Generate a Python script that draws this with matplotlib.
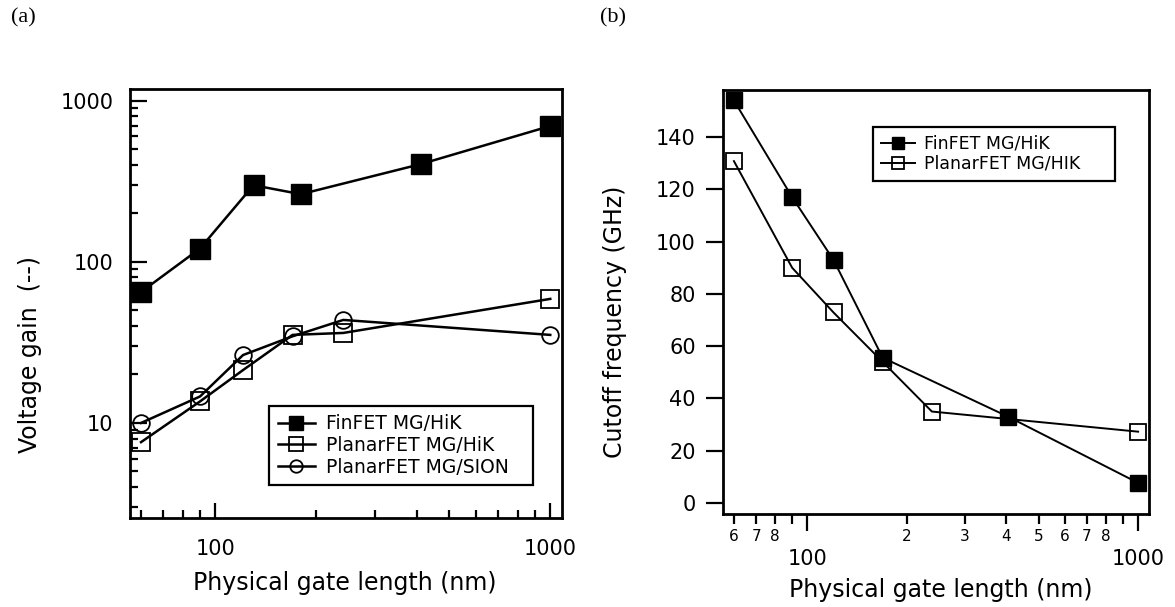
import numpy as np
import matplotlib
matplotlib.use("Agg")
import matplotlib.pyplot as plt
from matplotlib.ticker import FixedLocator, FixedFormatter, NullFormatter

plt.rcParams['font.family'] = ['DejaVu Sans']

# (a) voltage gain
fin_x_a = [60, 90, 130, 180, 410, 1000]
fin_y_a = [65, 121, 299, 263, 404, 697]
hik_x_a = [60, 90, 121, 170, 241, 1000]
hik_y_a = [7.6, 13.6, 21.3, 35.2, 36.2, 58.9]
sion_x_a = [60, 90, 121, 170, 241, 1000]
sion_y_a = [10.0, 14.6, 26.4, 34.5, 43.6, 35.2]

# (b) cutoff frequency
fin_x_b = [60, 90, 120, 169, 405, 1000]
fin_y_b = [154, 117, 93, 55.6, 33, 7.7]
hik_x_b = [60, 90, 120, 169, 238, 1000]
hik_y_b = [130.8, 90, 72.9, 54, 35, 27.3]

labels_a = ["FinFET MG/HiK", "PlanarFET MG/HiK", "PlanarFET MG/SION"]
labels_b = ["FinFET MG/HiK", "PlanarFET MG/HIK"]

fig = plt.figure(figsize=(11.75, 6.07), dpi=100)

# ---- panel (a)
ax1 = fig.add_axes([0.1106, 0.1466, 0.3677, 0.7068])
ax1.plot(fin_x_a, fin_y_a, '-s', color='k', lw=1.8, ms=14, mfc='k', label=labels_a[0], clip_on=False)
ax1.plot(hik_x_a, hik_y_a, '-s', color='k', lw=1.8, ms=13, mfc='none', mew=1.3, label=labels_a[1], clip_on=False)
ax1.plot(sion_x_a, sion_y_a, '-o', color='k', lw=1.8, ms=12, mfc='none', mew=1.3, label=labels_a[2], clip_on=False)
ax1.set_xscale('log')
ax1.set_yscale('log')
ax1.set_xlim(55.6, 1084)
ax1.set_ylim(2.57, 1183)
ax1.xaxis.set_major_locator(FixedLocator([100, 1000]))
ax1.xaxis.set_major_formatter(FixedFormatter(['100', '1000']))
ax1.xaxis.set_minor_locator(FixedLocator([60, 70, 80, 90, 200, 300, 400, 500, 600, 700, 800, 900]))
ax1.xaxis.set_minor_formatter(NullFormatter())
ax1.yaxis.set_major_locator(FixedLocator([10, 100, 1000]))
ax1.yaxis.set_major_formatter(FixedFormatter(['10', '100', '1000']))
ax1.yaxis.set_minor_locator(FixedLocator([3, 4, 5, 6, 7, 8, 9, 20, 30, 40, 50, 60, 70, 80, 90,
                                          200, 300, 400, 500, 600, 700, 800, 900]))
ax1.yaxis.set_minor_formatter(NullFormatter())
ax1.tick_params(which='both', direction='in', top=False, right=False, width=1.6, labelsize=15)
ax1.tick_params(axis='y', which='major', length=12, pad=12)
ax1.tick_params(axis='x', which='major', length=11, pad=15)
ax1.tick_params(which='minor', length=6)
for s in ax1.spines.values():
    s.set_linewidth(2)
ax1.set_xlabel("Physical gate length (nm)", fontsize=17)
ax1.set_ylabel("Voltage gain  (--)", fontsize=17)
ax1.xaxis.set_label_coords(0.498, -0.152)
ax1.yaxis.set_label_coords(-0.231, 0.38)
ax1.xaxis.label.set_va('center')
ax1.yaxis.label.set_va('center')
leg1 = ax1.legend(loc='center', bbox_to_anchor=(0.322, 0.068, 0.611, 0.202), mode='expand',
                  fancybox=False, edgecolor='k', framealpha=1, fontsize=13.5, handlelength=2.0,
                  handletextpad=0.6, borderpad=0.45, labelspacing=0.15, markerscale=0.75,
                  borderaxespad=0)
leg1.get_frame().set_linewidth(1.6)

# ---- panel (b)
ax2 = fig.add_axes([0.6153, 0.1532, 0.3626, 0.6985])
ax2.plot(fin_x_b, fin_y_b, '-s', color='k', lw=1.4, ms=12, mfc='k', label=labels_b[0], clip_on=False)
ax2.plot(hik_x_b, hik_y_b, '-s', color='k', lw=1.4, ms=12, mfc='none', mew=1.3, label=labels_b[1], clip_on=False)
ax2.set_xscale('log')
ax2.set_xlim(55.6, 1079)
ax2.set_ylim(-4.2, 158)
ax2.yaxis.set_major_locator(FixedLocator(np.arange(0, 141, 20)))
ax2.xaxis.set_major_locator(FixedLocator([100, 1000]))
ax2.xaxis.set_major_formatter(FixedFormatter(['100', '1000']))
minor_b = [60, 70, 80, 90, 200, 300, 400, 500, 600, 700, 800, 900]
minor_lab_b = ['6', '7', '8', '', '2', '3', '4', '5', '6', '7', '8', '']
ax2.xaxis.set_minor_locator(FixedLocator(minor_b))
ax2.xaxis.set_minor_formatter(FixedFormatter(minor_lab_b))
ax2.tick_params(which='both', direction='out', top=False, right=False, width=1.6)
ax2.tick_params(axis='y', which='major', length=12.5, pad=7, labelsize=15)
ax2.tick_params(axis='x', which='major', length=12.5, pad=13, labelsize=15)
ax2.tick_params(axis='x', which='minor', length=7, pad=4, labelsize=11)
for s in ax2.spines.values():
    s.set_linewidth(2)
ax2.set_xlabel("Physical gate length (nm)", fontsize=17)
ax2.set_ylabel("Cutoff frequency (GHz)", fontsize=17)
ax2.xaxis.set_label_coords(0.51, -0.179)
ax2.yaxis.set_label_coords(-0.254, 0.453)
ax2.xaxis.label.set_va('center')
ax2.yaxis.label.set_va('center')
leg2 = ax2.legend(loc='center', bbox_to_anchor=(0.352, 0.777, 0.568, 0.145), mode='expand',
                  fancybox=False, edgecolor='k', framealpha=1, fontsize=12.5, handlelength=2.0,
                  handletextpad=0.5, borderpad=0.45, labelspacing=0.12, markerscale=0.7,
                  borderaxespad=0)
leg2.get_frame().set_linewidth(1.6)

fig.text(0.009, 0.97, "(a)", family='Liberation Serif', fontsize=16, va='center')
fig.text(0.511, 0.97, "(b)", family='Liberation Serif', fontsize=16, va='center')

fig.savefig("out.png", dpi=100)
